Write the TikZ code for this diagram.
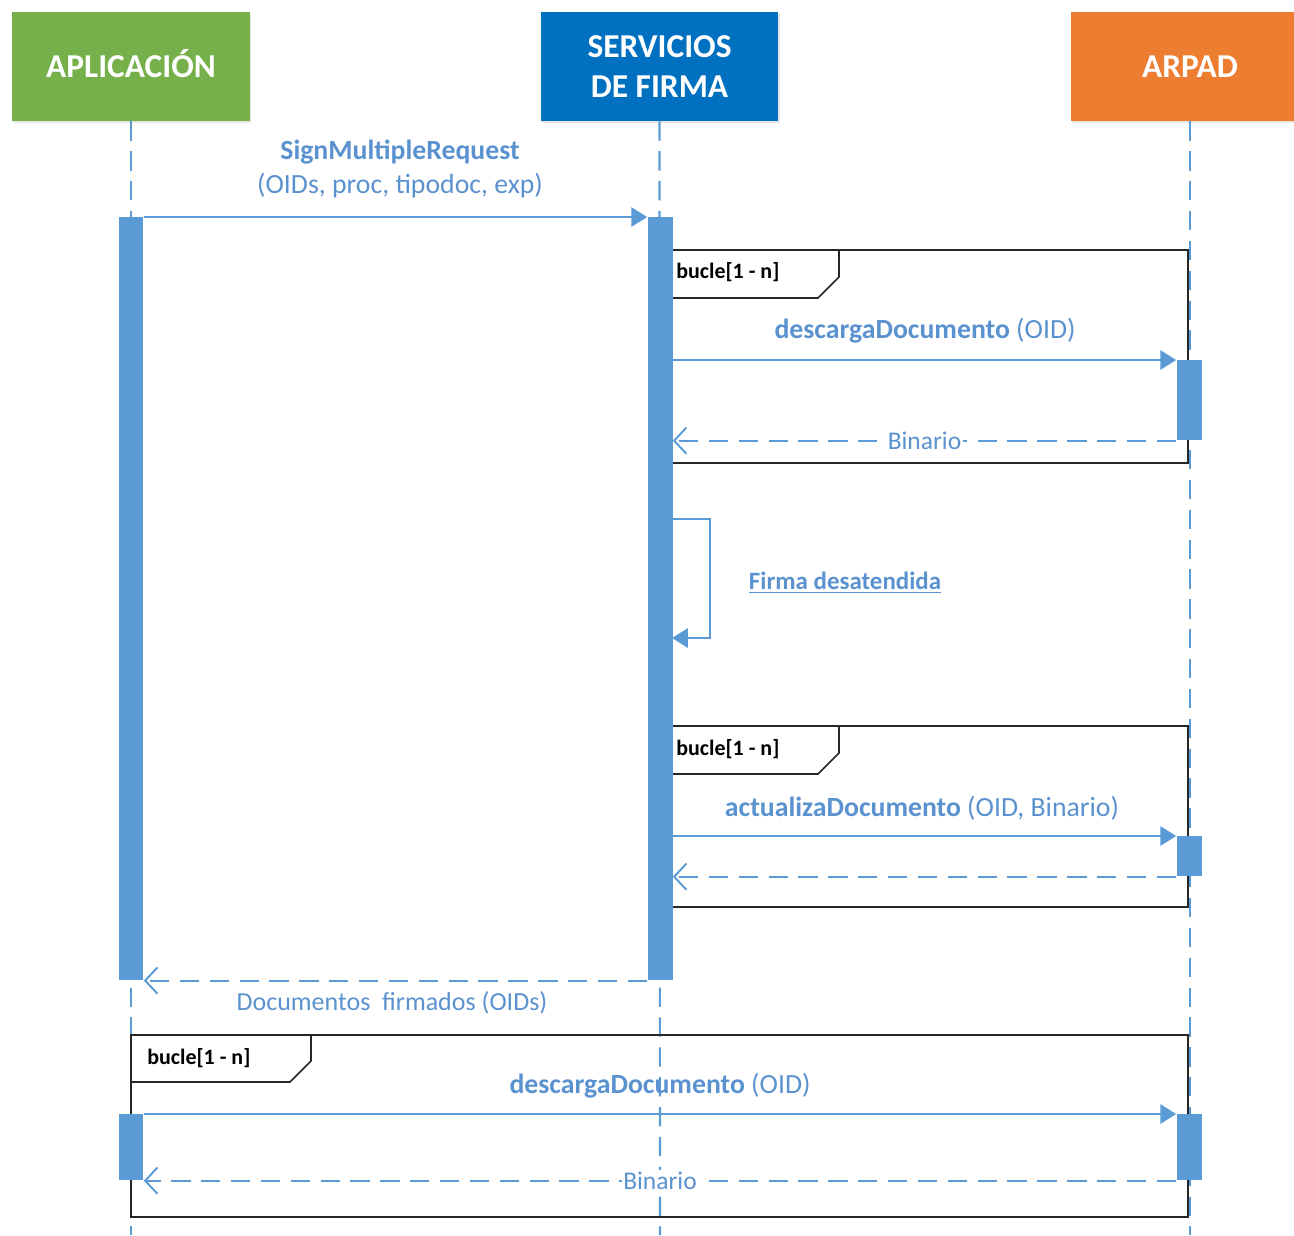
\documentclass[tikz,border=0pt]{standalone}
\usepackage{fontspec}
\setmainfont{Carlito}
\usetikzlibrary{arrows.meta,shadows}

\definecolor{appgreen}{HTML}{76B04A}
\definecolor{srvblue}{HTML}{0070C0}
\definecolor{arpadorange}{HTML}{ED7D31}
\definecolor{lineblue}{HTML}{5B9BD5}
\definecolor{textblue}{HTML}{5A92CF}

\begin{document}
\begin{tikzpicture}[x=0.02cm, y=-0.02cm,
	head/.style={minimum width=4.76cm, minimum height=2.18cm, inner sep=0pt, text=white, align=center,
		font=\fontsize{19}{22.7}\selectfont\bfseries, drop shadow={opacity=0.2, shadow xshift=0.6pt, shadow yshift=-1.2pt}},
	lifeline/.style={lineblue, line width=1.2pt, dash pattern=on 11pt off 6pt},
	actbar/.style={fill=lineblue, minimum width=0.5cm, inner sep=0pt, anchor=north},
	call/.style={lineblue, line width=1.1pt, -{Triangle[length=9pt,width=11pt]}},
	reply/.style={lineblue, line width=1.1pt, dash pattern=on 11pt off 6pt, -{Straight Barb[length=7pt,width=15pt]}},
	msg/.style={text=textblue, font=\fontsize{15.8}{19.3}\selectfont, align=center},
	smallmsg/.style={text=textblue, font=\fontsize{14.5}{17}\selectfont, fill=white, inner sep=1pt},
	loopframe/.style={draw=black!85, line width=0.9pt},
	looptag/.style={font=\fontsize{12.5}{14}\selectfont\bfseries, anchor=west, inner sep=0pt}]
	\useasboundingbox (0,0) rectangle (1294,1235);
	\clip (0,0) rectangle (1294,1235);

	% participants
	\node[head, fill=appgreen] (app) at (131,66.5) {APLICACI\smash{Ó}N};
	\node[head, fill=srvblue] (srv) at (659.5,66.5) {SERVICIOS\\DE FIRMA};
	\node[head, fill=arpadorange] (arpad) at (1190,66.5) {ARPAD};

	\coordinate (append) at (131,1235);
	\coordinate (srvend) at (660,1235);
	\coordinate (arpadend) at (1190,1235);
	\draw[lifeline] (app.south) -- (append);
	\draw[lifeline] (srv.south) -- (srvend);
	\draw[lifeline] (arpad.south) -- (arpadend);

	% loops
	\draw[loopframe] (660,250) rectangle (1188,463);
	\draw[loopframe] (660,298) -- (818,298) -- (839,277) -- (839,250);
	\node[looptag] (loop1) at (676,272) {bucle[1 - n]};

	\draw[loopframe] (660,726) rectangle (1188,907);
	\draw[loopframe] (660,774) -- (818,774) -- (839,753) -- (839,726);
	\node[looptag] (loop2) at (676,749) {bucle[1 - n]};

	\draw[loopframe] (131,1035) rectangle (1188,1217);
	\draw[loopframe] (131,1082) -- (290,1082) -- (311,1061) -- (311,1035);
	\node[looptag] (loop3) at (147,1058) {bucle[1 - n]};

	% activations
	\node[actbar, minimum height=15.26cm] (appbar) at (131,217) {};
	\node[actbar, minimum height=15.26cm] (srvbar) at (660,217) {};
	\node[actbar, minimum height=1.6cm] (arpbar1) at (1189,360) {};
	\node[actbar, minimum height=0.8cm] (arpbar2) at (1189,836) {};
	\node[actbar, minimum height=1.32cm] (appbar2) at (131,1114) {};
	\node[actbar, minimum height=1.32cm] (arpbar3) at (1189,1114) {};

	% messages
	\draw[call] (appbar.north east) -- (srvbar.north west);
	\node[msg] (m1) at (400,169) {\textbf{SignMultipleRequest}\\(OIDs, proc, tipodoc, exp)};

	\draw[call] (srvbar.east |- arpbar1.north) -- (arpbar1.north west);
	\node[msg] (m2) at (925,331) {\textbf{descargaDocumento} (OID)};
	\draw[reply] (arpbar1.south west) -- node[smallmsg] (m3) {Binario} (srvbar.east |- arpbar1.south);

	\coordinate (self1) at (672,519);
	\coordinate (self2) at (672,638);
	\draw[call] (self1) -- ++(38,0) |- (self2);
	\node[msg, font=\fontsize{14.2}{17}\selectfont\bfseries] (m4) at (845,583) {\underline{Firma desatendida}};

	\draw[call] (srvbar.east |- arpbar2.north) -- (arpbar2.north west);
	\node[msg] (m5) at (922,808) {\textbf{actualizaDocumento} (OID, Binario)};
	\draw[reply] (arpbar2.south west) -- (srvbar.east |- arpbar2.south);

	\draw[reply] (srvbar.south west) -- (appbar.south east);
	\node[msg, font=\fontsize{14.8}{17}\selectfont] (m6) at (392,1003) {Documentos~~firmados (OIDs)};

	\draw[call] (appbar2.north east) -- (arpbar3.north west);
	\node[msg] (m7) at (660,1086) {\textbf{descargaDocumento} (OID)};
	\draw[reply] (arpbar3.south west) -- node[smallmsg] (m8) {Binario} (appbar2.south east);
\end{tikzpicture}
\end{document}
